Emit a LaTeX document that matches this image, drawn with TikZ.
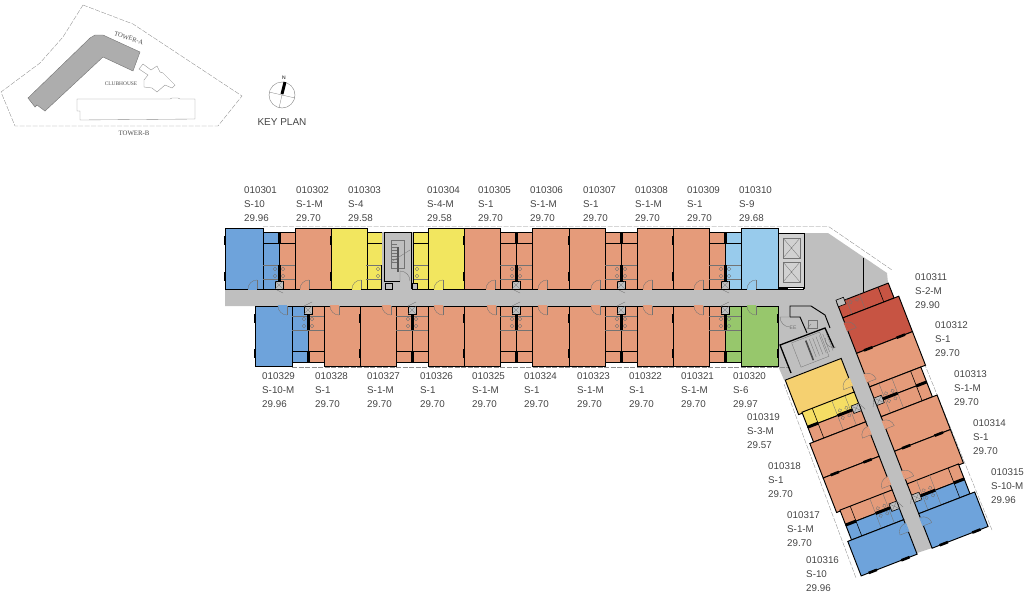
\documentclass[tikz,border=0pt]{standalone}
\usepackage{fontspec}
\setmainfont{Liberation Sans}
\newfontfamily\planfont{Liberation Serif}
\usetikzlibrary{arrows,backgrounds}

\definecolor{coral}{RGB}{229,155,122}
\definecolor{steel}{RGB}{110,163,219}
\definecolor{sky}{RGB}{152,203,236}
\definecolor{lemon}{RGB}{242,230,95}
\definecolor{amber}{RGB}{245,208,112}
\definecolor{honey}{RGB}{245,222,100}
\definecolor{moss}{RGB}{151,199,108}
\definecolor{brick}{RGB}{199,84,67}
\definecolor{slab}{RGB}{191,191,191}
\definecolor{ink}{RGB}{68,68,68}

\tikzset{
  wall/.style={draw=black,line width=.95pt},
  thin line/.style={draw=black!55,line width=.3pt},
  swing/.style={draw=black!55,line width=.35pt},
  edge line/.style={draw=black!45,line width=.35pt,dash pattern=on 5pt off 1.5pt},
  unit label/.style={anchor=north west,inner sep=0pt,align=left,text=ink,font=\fontsize{9.8}{14}\selectfont},
  key text/.style={inner sep=0pt,text=black!70,font=\planfont\fontsize{#1}{#1}\selectfont},
}

% a = along the corridor, d = away from it
\newcommand{\mainroom}[3]{
  \fill[#3] (#1,0) rectangle (#2,\maind);
  \draw[wall] (#1,0) rectangle (#2,\maind);
}
\newcommand{\bathcell}[3]{
  \fill[#3] (#1,0) rectangle (#2,\bathd);
  \draw[wall] (#1,0) rectangle (#2,\bathd);
  \draw[wall,line width=.55pt] (#1,\bathd-11) -- (#2,\bathd-11);
}
\newcommand{\plumb}[2]{
  \draw[swing] (#1,10) -- (#1+#2*16,10) (#1,24) -- (#1+#2*16,24);
  \draw[swing] (#1+#2*4,13) circle[radius=1.8pt] (#1+#2*4,20) circle[radius=1.8pt];
}
\newcommand{\duct}[1]{
  \fill[black] (#1-1.5,0) rectangle (#1+1.5,24);
  \fill[black] (#1-1.5,\bathd-11) rectangle (#1+1.5,\bathd);
  \draw[swing] (#1-4,0) -- (#1+4,-4);
  \filldraw[fill=slab,draw=black,line width=.6pt] (#1-4,0) rectangle (#1+4,8);
  \draw[thin line] (#1-4,0) -- (#1+4,8) (#1-4,8) -- (#1+4,0);
}
\newcommand{\bathpair}[3]{
  \bathcell{#1-16}{#1}{#2}
  \bathcell{#1}{#1+16}{#3}
  \plumb{#1}{-1}
  \plumb{#1}{1}
  \duct{#1}
}
\newcommand{\ticks}[1]{
  \fill[black] (#1-1.3,8) rectangle (#1+1.3,17);
  \fill[black] (#1-1.3,\maind-17) rectangle (#1+1.3,\maind-8);
}
\newcommand{\roomdoor}[2]{
  \draw[#2,line width=1.9pt] (#1,0) -- (#1+9,0);
  \draw[swing] (#1+9,0) -- (#1+9,9);
  \draw[swing] (#1+9,9) arc[start angle=-90,end angle=-180,radius=9pt];
}

\begin{document}
\begin{tikzpicture}[x=1pt,y=-1pt]
\useasboundingbox (0,0) rectangle (1024,592);

% key plan
\draw[edge line] (83,5) -- (133,24) -- (242,96) -- (218,126) -- (15,126) -- (1,92) -- (40,63) -- (63,37) -- cycle;
\filldraw[fill=black!32,draw=black!55,line width=.4pt] (28,98) -- (90,38) -- (95,35) -- (103,35) -- (140,52) -- (133,71) -- (103,57) -- (45,111) -- (37,105) -- (35,107) -- cycle;
\draw[black!45,line width=.35pt] (77,99) -- (170,99) -- (172,98) -- (178,98) -- (180,99) -- (195,99) -- (195,119) -- (80,120) -- (80,111) -- (77,111) -- cycle;
\draw[black!45,line width=.35pt] (139,69) -- (143,64) -- (151,70) -- (157,66) -- (160,72) -- (163,73) -- (175,85) -- (172,88) -- (165,85) -- (157,92) -- (152,88) -- (144,87) -- (144,80) -- (148,75) -- cycle;
\node[key text=6.6,rotate=-18] (towerA) at (129,38) {TOWER-A};
\node[key text=5.4] (clubhouse) at (121,84) {CLUBHOUSE};
\node[key text=6.8] (towerB) at (134,133) {TOWER-B};

\draw[black!50,line width=.4pt] (282,95) circle[radius=13pt];
\draw[black!50,line width=.3pt] (269,92) -- (295,98) (279,108) -- (285,82);
\draw[black,line width=3pt] (282,94) -- (285,82);
\node[inner sep=0pt,font=\fontsize{5}{5}\selectfont] (north) at (284,77.5) {N};
\node[inner sep=0pt,text=ink,font=\fontsize{10}{10}\selectfont] (keyplan) at (282,122) {KEY PLAN};

% floor slab
\fill[slab] (225,289) -- (804,289) -- (804,233) -- (828,233) -- (887,273) -- (888,283) -- (837,303) -- (932,548) -- (917,553) -- (841,358) -- (784,380) -- (778,366) -- (778,306) -- (225,306) -- cycle;

% outer edge
\draw[edge line] (263,226.8) -- (829,226.8) -- (892,270);
\draw[edge line] (292,367.5) -- (790,367.5);
\draw[edge line] (912,333) -- (992,530);
\draw[edge line] (784,384) -- (856,578);

% top row
\begin{scope}[shift={(0,289)},yscale=-1]
\def\maind{61}\def\bathd{57}
\mainroom{225}{263}{steel}
\bathpair{279}{steel}{coral}
\mainroom{295}{331}{coral}
\mainroom{331}{367}{lemon}
\bathcell{367}{382}{lemon}
\plumb{382}{-1}
\bathcell{413}{428}{lemon}
\plumb{413}{1}
\mainroom{428}{464}{lemon}
\mainroom{464}{500}{coral}
\bathpair{516}{coral}{coral}
\mainroom{532}{569}{coral}
\mainroom{569}{605}{coral}
\bathpair{621}{coral}{coral}
\mainroom{637}{673}{coral}
\mainroom{673}{709}{coral}
\bathpair{725}{coral}{sky}
\mainroom{741}{778}{sky}
\ticks{225}\ticks{331}\ticks{464}\ticks{569}\ticks{673}
\fill[black] (381,0) rectangle (384,24);
\fill[black] (411,0) rectangle (414,24);
\roomdoor{248}{steel}\roomdoor{300}{coral}\roomdoor{352}{lemon}\roomdoor{434}{lemon}\roomdoor{486}{coral}
\roomdoor{538}{coral}\roomdoor{591}{coral}\roomdoor{643}{coral}\roomdoor{694}{coral}\roomdoor{747}{sky}
\end{scope}

% bottom row
\begin{scope}[shift={(0,306)}]
\def\maind{60}\def\bathd{56}
\mainroom{255}{292}{steel}
\bathpair{308}{steel}{coral}
\mainroom{324}{360}{coral}
\mainroom{360}{396}{coral}
\bathpair{412}{coral}{coral}
\mainroom{428}{464}{coral}
\mainroom{464}{500}{coral}
\bathpair{516}{coral}{coral}
\mainroom{532}{569}{coral}
\mainroom{569}{605}{coral}
\bathpair{621}{coral}{coral}
\mainroom{637}{673}{coral}
\mainroom{673}{709}{coral}
\bathpair{725}{coral}{moss}
\mainroom{741}{778}{moss}
\ticks{255}\ticks{360}\ticks{464}\ticks{569}\ticks{673}\ticks{778}
\roomdoor{278}{steel}\roomdoor{330}{coral}\roomdoor{382}{coral}\roomdoor{434}{coral}\roomdoor{487}{coral}
\roomdoor{538}{coral}\roomdoor{591}{coral}\roomdoor{643}{coral}\roomdoor{694}{coral}\roomdoor{747}{moss}
\end{scope}

% right wing
\begin{scope}[shift={(837,303)},rotate=-68.8,yscale=-1]
\def\maind{60}\def\bathd{55}
\bathcell{0}{16}{brick}
\plumb{0}{1}
\mainroom{16}{54}{brick}
\mainroom{54}{90}{coral}
\bathpair{106}{coral}{coral}
\mainroom{122}{159}{coral}
\mainroom{159}{195}{coral}
\bathpair{210}{coral}{steel}
\mainroom{226}{263}{steel}
\ticks{54}\ticks{159}\ticks{263}
\filldraw[fill=slab,draw=black,line width=.6pt] (-3,0) rectangle (4,8);
\roomdoor{21}{brick}\roomdoor{76}{coral}\roomdoor{126}{coral}\roomdoor{180}{coral}\roomdoor{230}{steel}
\end{scope}

% left wing
\begin{scope}[shift={(822,309)},rotate=-68.8]
\def\maind{60}\def\bathd{56}
\mainroom{53}{90}{amber}
\bathpair{105}{honey}{coral}
\mainroom{121}{158}{coral}
\mainroom{158}{195}{coral}
\bathpair{210}{coral}{steel}
\mainroom{226}{263}{steel}
\ticks{158}\ticks{263}
\roomdoor{74}{amber}\roomdoor{126}{coral}\roomdoor{180}{coral}\roomdoor{230}{steel}
\end{scope}

% main stair
\fill[slab] (382,232) rectangle (413,290);
\draw[wall,line width=1pt] (400,281) -- (384,281) -- (384,232) -- (411,232) -- (411,289);
\draw[thin line] (391,240) rectangle (404,268);
\foreach \n in {0,...,6} {
  \draw[thin line] (391,244+\n*3) -- (397,244+\n*3);
}
\fill[black!65] (397,247) rectangle (399,272);
\draw[thin line] (391,262) -- (410,250);
\draw[swing] (400,281) -- (400,271) arc[start angle=90,end angle=0,radius=10pt];
\filldraw[fill=slab,draw=black,line width=.8pt] (385,283) rectangle (392,289);
\filldraw[fill=slab,draw=black,line width=.8pt] (412,283) rectangle (417,289);

% lifts
\fill[black!18] (778,233) rectangle (804,289);
\draw[wall,line width=1pt] (778,289) -- (778,233) -- (804,233) -- (804,289);
\fill[black] (778,287) rectangle (804,289.5);
\fill[white] (788,287.6) rectangle (803,288.6);
\foreach \ytop in {238,262} {
  \draw[thin line] (783,\ytop) rectangle (800,\ytop+20);
  \draw[thin line] (783,\ytop) -- (800,\ytop+20) (783,\ytop+20) -- (800,\ytop);
}
\draw[wall] (863,258) -- (863,292);

% service rooms
\draw[wall] (790,317) -- (790,306) -- (811,306) -- (825,315) -- (830,328);
\draw[wall] (790,317) -- (800,317) -- (807,333);
\draw[swing] (780,317) -- (790,317) (780,317) arc[start angle=180,end angle=270,radius=10pt];
\draw[thin line] (808,320) rectangle (817,328);
\draw[thin line] (806,330) -- (811,324);
\node[inner sep=0pt,text=black!55,font=\fontsize{5}{5}\selectfont] (shaft) at (793,328) {EE};

% second stair
\draw[wall,line width=1.3pt] (791,373) -- (780,345) -- (825,328) -- (834,348);
\begin{scope}[shift={(809,349)},rotate=-68.8]
\foreach \n in {-3,...,3} {
  \draw[thin line] (-9,\n*3.6-11) -- (10,\n*3.6-11);
}
\draw[thin line] (-12,-16) rectangle (14,14);
\fill[black!70] (-9,-.8) rectangle (12,.8);
\end{scope}
\draw[swing] (836,347) arc[start angle=-70,end angle=-190,radius=8pt];

% units top
\node[unit label] (u010301) at (244,186.5) {010301\\S-10\\29.96};
\node[unit label] (u010302) at (296,186.5) {010302\\S-1-M\\29.70};
\node[unit label] (u010303) at (348,186.5) {010303\\S-4\\29.58};
\node[unit label] (u010304) at (427,186.5) {010304\\S-4-M\\29.58};
\node[unit label] (u010305) at (478,186.5) {010305\\S-1\\29.70};
\node[unit label] (u010306) at (530,186.5) {010306\\S-1-M\\29.70};
\node[unit label] (u010307) at (583,186.5) {010307\\S-1\\29.70};
\node[unit label] (u010308) at (635,186.5) {010308\\S-1-M\\29.70};
\node[unit label] (u010309) at (687,186.5) {010309\\S-1\\29.70};
\node[unit label] (u010310) at (739,186.5) {010310\\S-9\\29.68};

% units right
\node[unit label] (u010311) at (915,273) {010311\\S-2-M\\29.90};
\node[unit label] (u010312) at (935,321.5) {010312\\S-1\\29.70};
\node[unit label] (u010313) at (954,370) {010313\\S-1-M\\29.70};
\node[unit label] (u010314) at (973,419.5) {010314\\S-1\\29.70};
\node[unit label] (u010315) at (991,468.5) {010315\\S-10-M\\29.96};

% units left
\node[unit label] (u010316) at (806,556.5) {010316\\S-10\\29.96};
\node[unit label] (u010317) at (787,511) {010317\\S-1-M\\29.70};
\node[unit label] (u010318) at (768,462) {010318\\S-1\\29.70};
\node[unit label] (u010319) at (747,413) {010319\\S-3-M\\29.57};

% units bottom
\node[unit label] (u010320) at (733,372) {010320\\S-6\\29.97};
\node[unit label] (u010321) at (681,372) {010321\\S-1-M\\29.70};
\node[unit label] (u010322) at (629,372) {010322\\S-1\\29.70};
\node[unit label] (u010323) at (577,372) {010323\\S-1-M\\29.70};
\node[unit label] (u010324) at (524,372) {010324\\S-1\\29.70};
\node[unit label] (u010325) at (472,372) {010325\\S-1-M\\29.70};
\node[unit label] (u010326) at (420,372) {010326\\S-1\\29.70};
\node[unit label] (u010327) at (367,372) {010327\\S-1-M\\29.70};
\node[unit label] (u010328) at (315,372) {010328\\S-1\\29.70};
\node[unit label] (u010329) at (262,372) {010329\\S-10-M\\29.96};

\end{tikzpicture}
\end{document}
